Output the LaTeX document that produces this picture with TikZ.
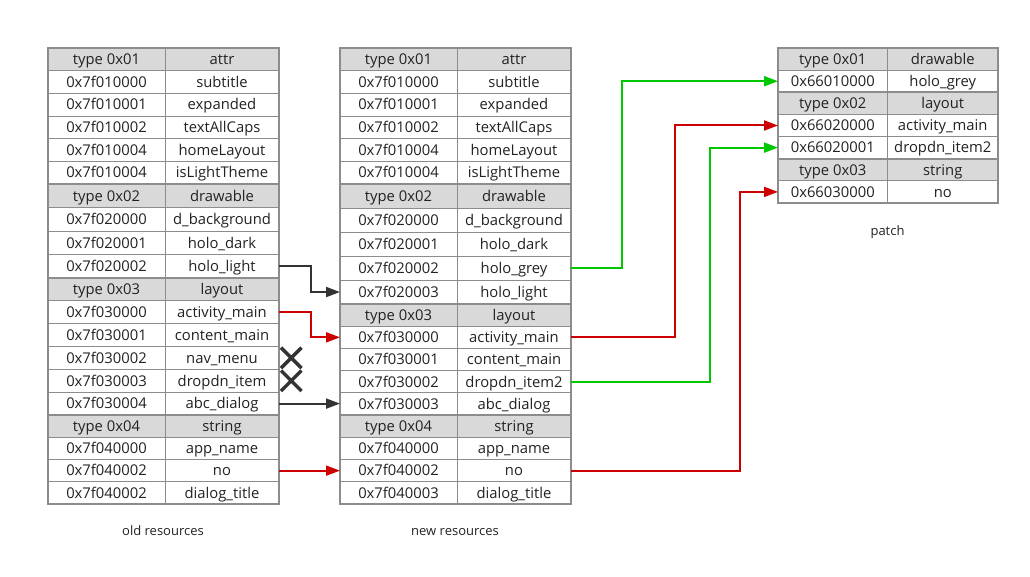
\documentclass[tikz,border=0pt]{standalone}
\usepackage{fontspec}
\setmainfont{Open Sans}
\usetikzlibrary{arrows.meta,positioning,shapes.misc}
\definecolor{gridline}{HTML}{8C8C8C}
\definecolor{headfill}{HTML}{D9D9D9}
\definecolor{textgrey}{HTML}{222222}
\definecolor{moved}{HTML}{333333}
\definecolor{changed}{HTML}{CC0000}
\definecolor{added}{HTML}{00C800}
\tikzset{
  cell/.style={draw=gridline,line width=1pt,fill=white,inner sep=0pt,outer sep=0pt,
    text height=10.6pt,text depth=0pt,font=\fontsize{14.8}{16}\selectfont,text=textgrey},
  head/.style={cell,fill=headfill},
  frame/.style={draw=gridline,line width=2pt},
  link/.style={-{Triangle[length=14pt,width=10pt]},line width=2pt},
  xmark/.style={cross out,draw=moved,line width=3.5pt,minimum size=17pt,inner sep=0pt},
  caption/.style={font=\fontsize{13}{14}\selectfont,text=textgrey,inner sep=0pt,
    text height=9.5pt,text depth=0pt}
}

\begin{document}
\begin{tikzpicture}[x=1pt,y=-1pt]
  \useasboundingbox (0,0) rectangle (1030,576);

  % old resources
  \coordinate (o0-l) at (106.5,48);
  \foreach \st/\h/\id/\nm [count=\k, remember=\k as \p (initially 0)] in {
    head/22.67/type 0x01/attr, cell/22.67/0x7f010000/subtitle,
    cell/22.67/0x7f010001/expanded, cell/22.67/0x7f010002/textAllCaps,
    cell/22.67/0x7f010004/homeLayout, cell/22.67/0x7f010004/isLightTheme,
    head/23.5/type 0x02/drawable, cell/23.5/0x7f020000/d\_background,
    cell/23.5/0x7f020001/holo\_dark, cell/23.5/0x7f020002/holo\_light,
    head/22.83/type 0x03/layout, cell/22.83/0x7f030000/activity\_main,
    cell/22.83/0x7f030001/content\_main, cell/22.83/0x7f030002/nav\_menu,
    cell/22.83/0x7f030003/dropdn\_item, cell/22.83/0x7f030004/abc\_dialog,
    head/22.25/type 0x04/string, cell/22.25/0x7f040000/app\_name,
    cell/22.25/0x7f040002/no, cell/22.25/0x7f040002/dialog\_title}
  {
    \node[\st,minimum height=\h pt,minimum width=117pt,below=0pt of o\p-l] (o\k-l) {\id};
    \node[\st,minimum height=\h pt,minimum width=114pt,right=0pt of o\k-l] (o\k-r) {\nm};
  }
  \foreach \a/\b in {1/6,7/10,11/16,17/20}
    \draw[frame] (o\a-l.north west) rectangle (o\b-r.south east);
  \node[caption,below=21.5pt of o20-l.south east,xshift=-2pt] (oldcap) {old resources};

  % new resources
  \coordinate (n0-l) at (398.5,48);
  \foreach \st/\h/\id/\nm [count=\k, remember=\k as \p (initially 0)] in {
    head/22.67/type 0x01/attr, cell/22.67/0x7f010000/subtitle,
    cell/22.67/0x7f010001/expanded, cell/22.67/0x7f010002/textAllCaps,
    cell/22.67/0x7f010004/homeLayout, cell/22.67/0x7f010004/isLightTheme,
    head/24/type 0x02/drawable, cell/24/0x7f020000/d\_background,
    cell/24/0x7f020001/holo\_dark, cell/24/0x7f020002/holo\_grey,
    cell/24/0x7f020003/holo\_light,
    head/22.2/type 0x03/layout, cell/22.2/0x7f030000/activity\_main,
    cell/22.2/0x7f030001/content\_main, cell/22.2/0x7f030002/dropdn\_item2,
    cell/22.2/0x7f030003/abc\_dialog,
    head/22.25/type 0x04/string, cell/22.25/0x7f040000/app\_name,
    cell/22.25/0x7f040002/no, cell/22.25/0x7f040003/dialog\_title}
  {
    \node[\st,minimum height=\h pt,minimum width=117pt,below=0pt of n\p-l] (n\k-l) {\id};
    \node[\st,minimum height=\h pt,minimum width=114pt,right=0pt of n\k-l] (n\k-r) {\nm};
  }
  \foreach \a/\b in {1/6,7/11,12/16,17/20}
    \draw[frame] (n\a-l.north west) rectangle (n\b-r.south east);
  \node[caption,below=21.5pt of n20-l.south east,xshift=-2pt] (newcap) {new resources};

  % patch
  \coordinate (p0-l) at (832.75,48);
  \foreach \st/\id/\nm [count=\k, remember=\k as \p (initially 0)] in {
    head/type 0x01/drawable, cell/0x66010000/holo\_grey,
    head/type 0x02/layout, cell/0x66020000/activity\_main,
    cell/0x66020001/dropdn\_item2,
    head/type 0x03/string, cell/0x66030000/no}
  {
    \node[\st,minimum height=22.14pt,minimum width=109.5pt,below=0pt of p\p-l] (p\k-l) {\id};
    \node[\st,minimum height=22.14pt,minimum width=110.5pt,right=0pt of p\k-l] (p\k-r) {\nm};
  }
  \foreach \a/\b in {1/2,3/5,6/7}
    \draw[frame] (p\a-l.north west) rectangle (p\b-r.south east);
  \node[caption,below=22.5pt of p7-l.south east] (patchcap) {patch};

  % old -> new
  \draw[link,moved] (o10-r.east) -- ++(32,0) |- (n11-l.west);
  \draw[link,changed] (o12-r.east) -- ++(32,0) |- (n13-l.west);
  \draw[link,moved] (o16-r.east) -- (o16-r.east -| n16-l.west);
  \draw[link,changed] (o19-r.east) -- (o19-r.east -| n19-l.west);
  \node[xmark,right=2pt of o14-r] (gone1) {};
  \node[xmark,right=2pt of o15-r] (gone2) {};

  % new -> patch
  \draw[link,added] (n10-r.east) -- ++(51,0) |- (p2-l.west);
  \draw[link,changed] (n13-r.east) -- ++(104,0) |- (p4-l.west);
  \draw[link,added] (n15-r.east) -- ++(139,0) |- (p5-l.west);
  \draw[link,changed] (n19-r.east) -- ++(169,0) |- (p7-l.west);
\end{tikzpicture}
\end{document}
